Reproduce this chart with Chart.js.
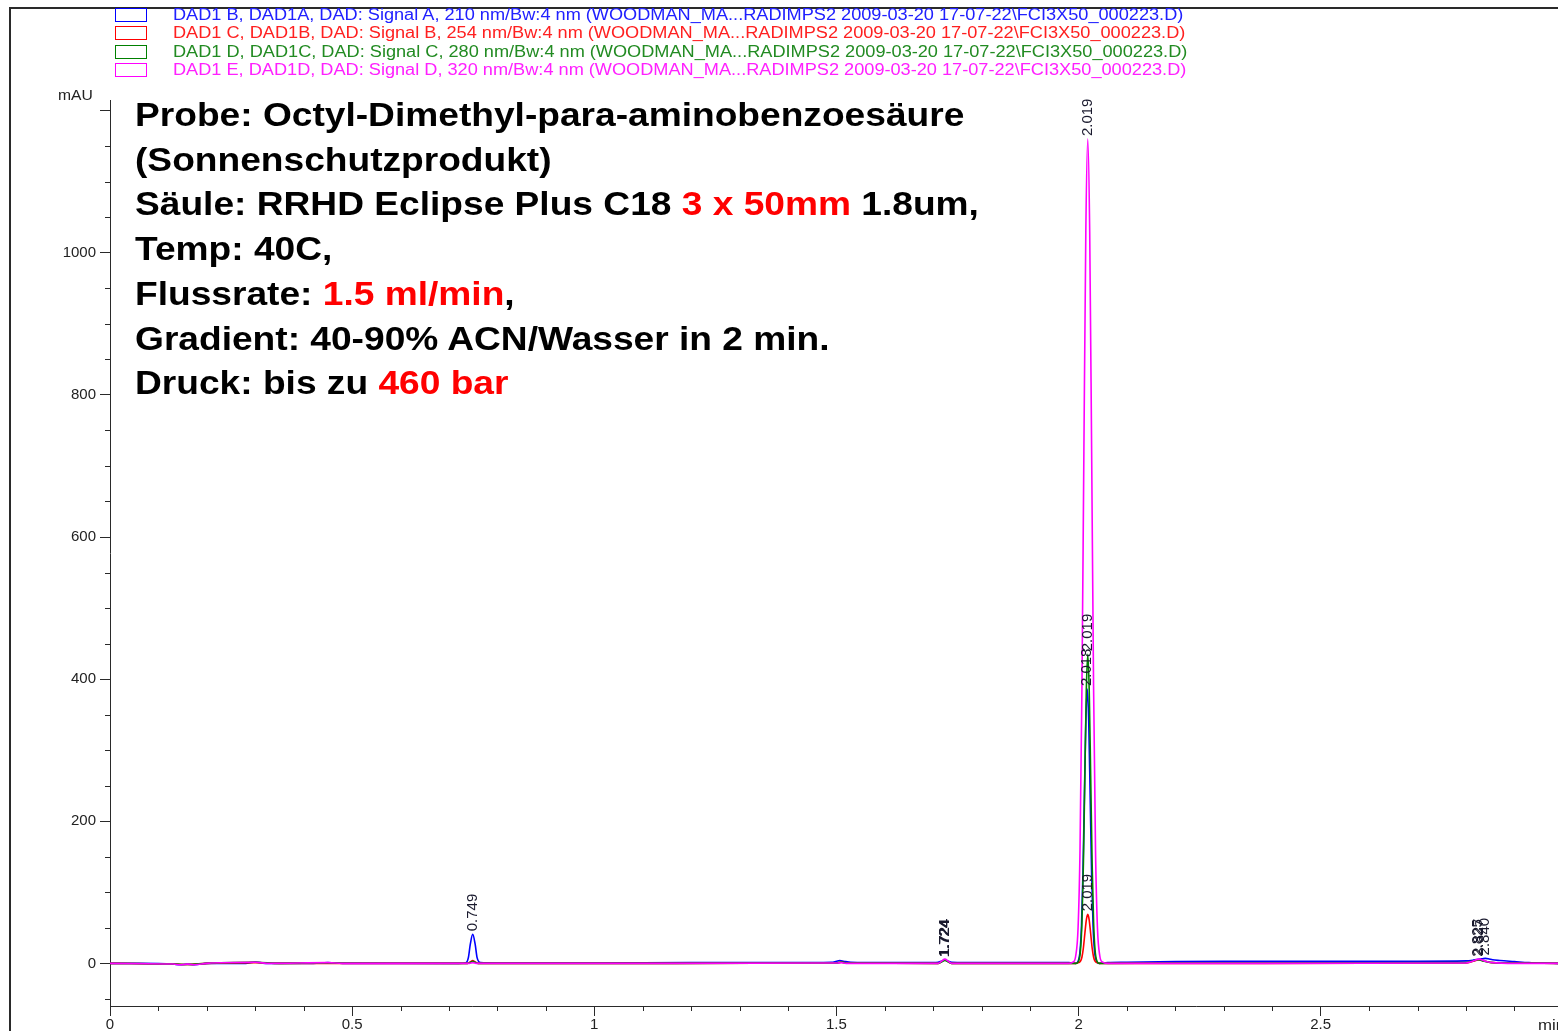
<!DOCTYPE html>
<html>
<head>
<meta charset="utf-8">
<title>DAD Chromatogramm</title>
<script src="https://cdn.jsdelivr.net/npm/chart.js@4.4.0/dist/chart.umd.min.js"></script>
<style>
  html, body { margin: 0; padding: 0; background: #fff; }
  body { width: 1558px; height: 1031px; overflow: hidden; position: relative; font-family: 'Liberation Sans', Arial, sans-serif; }
  #c { position: absolute; left: 0; top: 0; }
  .frame-top { position: absolute; left: 9px; top: 7px; width: 1549px; height: 2px; background: #2a2a2a; }
  .frame-left { position: absolute; left: 9px; top: 7px; width: 2px; height: 1024px; background: #2a2a2a; }
  #legend { position: absolute; left: 0; top: 6px; }
  .lg-row { position: relative; height: 18.3px; }
  .lg-box { position: absolute; left: 115px; top: 2px; width: 30px; height: 12px; border: 1.5px solid; background: #fff; }
  .lg-text { position: absolute; left: 173px; top: 0; font-size: 16px; line-height: 18.3px; white-space: nowrap; transform: scaleX(1.135); transform-origin: 0 0; }
  #info { position: absolute; left: 135px; top: 93px; font-weight: bold; font-size: 33px; line-height: 44.7px; color: #000; white-space: nowrap; transform: scaleX(1.125); transform-origin: 0 0; }
  #info .hl { color: #ff0000; }
  .unit { position: absolute; font-size: 14px; color: #222; white-space: nowrap; transform: scaleX(1.12); transform-origin: 0 0; }
</style>
</head>
<body>
<canvas id="c" width="1558" height="1031"></canvas>
<div class="frame-top"></div>
<div class="frame-left"></div>
<div id="legend"></div>
<div id="info">
  <div>Probe: Octyl-Dimethyl-para-aminobenzoesäure</div>
  <div>(Sonnenschutzprodukt)</div>
  <div>Säule: RRHD Eclipse Plus C18 <span class="hl">3 x 50mm</span> 1.8um,</div>
  <div>Temp: 40C,</div>
  <div>Flussrate: <span class="hl">1.5 ml/min</span>,</div>
  <div>Gradient: 40-90% ACN/Wasser in 2 min.</div>
  <div>Druck: bis zu <span class="hl">460 bar</span></div>
</div>
<div class="unit" style="left:58px; top:87px;">mAU</div>
<div class="unit" style="left:1538px; top:1016px; font-size:15px;">min</div>

<script>
// Detector signal names (legend entries)
const seriesNames = [
  'DAD1 B, DAD1A, DAD: Signal A, 210 nm/Bw:4 nm (WOODMAN_MA...RADIMPS2 2009-03-20 17-07-22\\FCI3X50_000223.D)',
  'DAD1 C, DAD1B, DAD: Signal B, 254 nm/Bw:4 nm (WOODMAN_MA...RADIMPS2 2009-03-20 17-07-22\\FCI3X50_000223.D)',
  'DAD1 D, DAD1C, DAD: Signal C, 280 nm/Bw:4 nm (WOODMAN_MA...RADIMPS2 2009-03-20 17-07-22\\FCI3X50_000223.D)',
  'DAD1 E, DAD1D, DAD: Signal D, 320 nm/Bw:4 nm (WOODMAN_MA...RADIMPS2 2009-03-20 17-07-22\\FCI3X50_000223.D)'
];

// Signal traces: [retention time (min), absorbance (mAU)]
const signalA = [
  [0, 0], [0.06, 0], [0.13, -1], [0.145, -2], [0.16, -1], [0.175, -2], [0.2, 0],
  [0.28, 0], [0.3, 2], [0.32, 0], [0.42, 0], [0.45, 1], [0.48, 0], [0.6, 0],
  [0.72, 0], [0.735, 1], [0.740, 8], [0.744, 27], [0.749, 41], [0.754, 27], [0.758, 8], [0.765, 1],
  [0.8, 0.5], [1.0, 0.5], [1.2, 1], [1.4, 1], [1.49, 1.5], [1.500, 3], [1.507, 4], [1.515, 3], [1.53, 1.5],
  [1.6, 1], [1.7, 1], [1.71, 1.5], [1.717, 3], [1.724, 5], [1.731, 3], [1.738, 1.5], [1.8, 1], [1.9, 1], [1.98, 1],
  [1.994, 0], [1.999, 3], [2.003, 17], [2.006, 52], [2.009, 125], [2.012, 234], [2.015, 340], [2.018, 386],
  [2.021, 340], [2.024, 234], [2.027, 125], [2.030, 52], [2.033, 17], [2.037, 3], [2.042, 0],
  [2.06, 1], [2.1, 1.5], [2.2, 2.5], [2.3, 3], [2.5, 3], [2.7, 3], [2.8, 3.5],
  [2.815, 4.5], [2.828, 6], [2.834, 6.5], [2.840, 7], [2.846, 6.5], [2.855, 5], [2.87, 4],
  [2.9, 2.5], [2.93, 1], [2.96, 0.3], [2.99, 0]
];
const signalB = [
  [0, 0], [0.13, -1], [0.16, -1.5], [0.2, 0], [0.3, 1], [0.35, 0], [0.72, 0],
  [0.738, 0], [0.744, 2], [0.749, 4], [0.754, 2], [0.76, 0], [1.0, 0],
  [1.5, 0.5], [1.51, 1.5], [1.52, 0.5], [1.71, 0], [1.717, 2.5], [1.724, 5], [1.731, 2.5], [1.738, 0],
  [1.99, 0], [1.995, 0], [2.000, 1], [2.004, 3], [2.007, 9], [2.010, 22], [2.013, 42], [2.016, 61], [2.019, 69],
  [2.022, 61], [2.025, 42], [2.028, 22], [2.031, 9], [2.034, 3], [2.038, 1], [2.043, 0],
  [2.2, 0], [2.8, 0.5], [2.815, 3], [2.827, 5], [2.84, 3], [2.855, 1], [2.9, 0.3], [2.99, 0]
];
const signalC = [
  [0, 0], [0.13, -1], [0.16, -1.5], [0.2, 0], [0.3, 1.5], [0.35, 0], [0.45, 0.5], [0.72, 0],
  [0.738, 0], [0.744, 1.5], [0.749, 3], [0.754, 1.5], [0.76, 0], [1.0, 0],
  [1.5, 0.5], [1.51, 2], [1.52, 0.5], [1.71, 0], [1.717, 2], [1.724, 4], [1.731, 2], [1.738, 0],
  [1.99, 0], [1.995, 0], [2.000, 3], [2.004, 19], [2.007, 59], [2.010, 141], [2.013, 264], [2.016, 384], [2.019, 435],
  [2.022, 384], [2.025, 264], [2.028, 141], [2.031, 59], [2.034, 19], [2.038, 3], [2.043, 0],
  [2.2, 0.5], [2.8, 1], [2.812, 3], [2.825, 5], [2.838, 3], [2.855, 1], [2.9, 0.3], [2.99, 0]
];
const signalD = [
  [0, 0], [0.13, -1], [0.145, -2], [0.16, -1], [0.175, -2], [0.2, 0], [0.3, 1.5], [0.33, 0],
  [0.45, 1], [0.48, 0], [0.72, 0], [0.742, 0], [0.749, 1], [0.756, 0], [1.0, 0],
  [1.5, 0.5], [1.51, 1], [1.52, 0], [1.71, 0], [1.717, 3], [1.724, 6], [1.731, 3], [1.738, 0],
  [1.98, 0], [1.989, 2], [1.994, 10], [1.999, 50], [2.003, 160], [2.007, 390], [2.011, 720], [2.015, 1030], [2.019, 1160],
  [2.023, 1030], [2.027, 720], [2.031, 390], [2.035, 160], [2.039, 50], [2.044, 10], [2.049, 2], [2.06, 0],
  [2.2, 0], [2.8, 0.5], [2.814, 3], [2.827, 6], [2.84, 3], [2.855, 1], [2.9, 0], [2.99, 0]
];

// Retention-time labels: which signal and which peak
const peakLabels = [
  { signal: 0, time: 0.749 },
  { signal: 0, time: 1.724 }, { signal: 1, time: 1.724 }, { signal: 2, time: 1.724 }, { signal: 3, time: 1.724 },
  { signal: 3, time: 2.019 }, { signal: 2, time: 2.019 }, { signal: 0, time: 2.018 }, { signal: 1, time: 2.019 },
  { signal: 2, time: 2.825 }, { signal: 3, time: 2.827 }, { signal: 0, time: 2.840 }
];

// Axis ranges and tick spacing
const timeRange = [0, 2.99];
const absRange = [-60, 1215];
const timeStep = 0.1, timeLabelStep = 0.5;
const absStep = 50, absLabelStep = 200, absLabelMax = 1000;

const signals = [signalA, signalB, signalC, signalD];
const lineColors = ['#0000ff', '#ff0000', '#008000', '#ff00ff'];
const textColors = ['#2020ff', '#ff2020', '#228b22', '#ff20ff'];
const drawOrder = [3, 2, 1, 0];

// Legend
const legendEl = document.getElementById('legend');
seriesNames.forEach((name, i) => {
  const row = document.createElement('div');
  row.className = 'lg-row';
  const box = document.createElement('div');
  box.className = 'lg-box';
  box.style.borderColor = lineColors[i];
  const txt = document.createElement('div');
  txt.className = 'lg-text';
  txt.style.color = textColors[i];
  txt.textContent = name;
  row.appendChild(box);
  row.appendChild(txt);
  legendEl.appendChild(row);
});

const isMultiple = (v, step) => Math.abs(v / step - Math.round(v / step)) < 1e-6;
const AXIS = '#2a2a2a';
const FONT = "'Liberation Sans', Arial, sans-serif";

// Short minor ticks between the labelled ones
const minorTicks = {
  id: 'minorTicks',
  afterDraw(chart) {
    const { ctx, chartArea, scales } = chart;
    ctx.save();
    ctx.strokeStyle = AXIS;
    ctx.lineWidth = 1;
    scales.x.ticks.forEach(t => {
      if (isMultiple(t.value, timeLabelStep)) return;
      const x = Math.round(scales.x.getPixelForValue(t.value)) + 0.5;
      ctx.beginPath(); ctx.moveTo(x, chartArea.bottom); ctx.lineTo(x, chartArea.bottom + 5); ctx.stroke();
    });
    scales.y.ticks.forEach(t => {
      if (isMultiple(t.value, absLabelStep)) return;
      const y = Math.round(scales.y.getPixelForValue(t.value)) + 0.5;
      ctx.beginPath(); ctx.moveTo(chartArea.left - 5, y); ctx.lineTo(chartArea.left, y); ctx.stroke();
    });
    ctx.restore();
  }
};

// Vertical retention-time labels above the peak maxima
const peakTimeLabels = {
  id: 'peakTimeLabels',
  afterDatasetsDraw(chart) {
    const { ctx, scales } = chart;
    ctx.save();
    ctx.font = '15px ' + FONT;
    ctx.fillStyle = '#1a1a2e';
    ctx.textAlign = 'left';
    ctx.textBaseline = 'middle';
    peakLabels.forEach(p => {
      const pt = signals[p.signal].find(d => Math.abs(d[0] - p.time) < 1e-9);
      if (!pt) return;
      const x = scales.x.getPixelForValue(pt[0]);
      const y = scales.y.getPixelForValue(pt[1]) - 3;
      ctx.save();
      ctx.translate(x, y);
      ctx.rotate(-Math.PI / 2);
      ctx.fillText(pt[0].toFixed(3), 0, 0);
      ctx.restore();
    });
    ctx.restore();
  }
};

new Chart(document.getElementById('c'), {
  type: 'line',
  data: {
    datasets: signals.map((s, i) => ({
      label: seriesNames[i],
      data: s.map(d => ({ x: d[0], y: d[1] })),
      borderColor: lineColors[i],
      borderWidth: 1.6,
      pointRadius: 0,
      fill: false,
      cubicInterpolationMode: 'monotone',
      order: drawOrder[i]
    }))
  },
  options: {
    responsive: false,
    animation: false,
    layout: { padding: { top: 100, right: 0, bottom: 0, left: 0 } },
    plugins: { legend: { display: false }, tooltip: { enabled: false } },
    scales: {
      x: {
        type: 'linear',
        min: timeRange[0], max: timeRange[1],
        border: { color: AXIS, width: 1 },
        grid: {
          drawOnChartArea: false, tickLength: 10,
          tickColor: c => (c.tick && isMultiple(c.tick.value, timeLabelStep)) ? AXIS : 'rgba(0,0,0,0)'
        },
        ticks: {
          stepSize: timeStep, includeBounds: false, autoSkip: false, maxRotation: 0, padding: 0,
          color: '#222', font: { family: FONT, size: 15 },
          callback: v => isMultiple(v, timeLabelStep) ? String(Math.round(v / timeLabelStep) * timeLabelStep) : ''
        },
        afterFit(s) { s.height = 25; }
      },
      y: {
        min: absRange[0], max: absRange[1],
        border: { color: AXIS, width: 1 },
        grid: {
          drawOnChartArea: false, tickLength: 10,
          tickColor: c => (c.tick && isMultiple(c.tick.value, absLabelStep)) ? AXIS : 'rgba(0,0,0,0)'
        },
        ticks: {
          stepSize: absStep, includeBounds: false, autoSkip: false, padding: 4,
          color: '#222', font: { family: FONT, size: 15 },
          callback: v => (isMultiple(v, absLabelStep) && v <= absLabelMax) ? String(Math.round(v)) : ''
        },
        afterFit(s) { s.width = 110; }
      }
    }
  },
  plugins: [minorTicks, peakTimeLabels]
});
</script>
</body>
</html>
